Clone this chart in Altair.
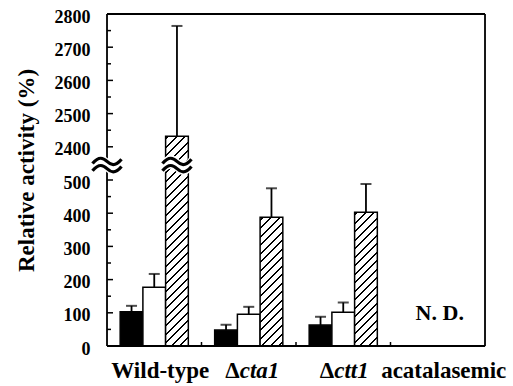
import altair as alt
import pandas as pd

# ---------------- data ----------------
groups = ["Wild-type", "Δcta1", "Δctt1", "acatalasemic"]
series = ["solid", "open", "hatched"]
solid_mean = [103, 48, 63, None]
solid_sd = [18, 16, 25, None]
open_mean = [177, 96, 102, None]
open_sd = [40, 22, 29, None]
hatched_mean = [2432, 388, 403, None]
hatched_sd = [332, 87, 85, None]

label_prefix = ["Wild-type", "Δ", "Δ", "acatalasemic"]
label_italic = ["", "cta1", "ctt1", ""]

lower_ticks = list(range(0, 501, 50))
upper_ticks = list(range(2400, 2801, 50))
BREAK_LOW, BREAK_HIGH = 500, 2400   # axis jumps from 500 to 2400

# ---------------- layout constants ----------------
W, H = 378, 332
YMAX = 1000          # virtual axis top (2800 -> 1000)
SHIFT = BREAK_HIGH - BREAK_LOW - 100
PAD_OUTER = 0.58
FONT = "Liberation Serif"


def virt(v):
    return v if v <= BREAK_LOW else v - SHIFT


rows = []
for i, g in enumerate(groups):
    for s, means, sds in zip(series, [solid_mean, open_mean, hatched_mean],
                             [solid_sd, open_sd, hatched_sd]):
        if means[i] is None:
            continue
        rows.append({"group": g, "series": s, "mean": means[i], "sd": sds[i]})
df = pd.DataFrame(rows)

ticks_df = pd.DataFrame({"tick": lower_ticks + upper_ticks})
labels_df = pd.DataFrame({"group": groups, "prefix": label_prefix, "ital": label_italic})
nd_df = pd.DataFrame({"group": [g for i, g in enumerate(groups) if solid_mean[i] is None]})
brk_df = pd.DataFrame({"group": [groups[0]], "series": ["hatched"]})
BREAK_POS = 545  # virtual position of the break symbol

xenc = alt.X("group:N", scale=alt.Scale(domain=groups, paddingInner=0, paddingOuter=0), axis=None)
xoff = alt.XOffset("series:N", scale=alt.Scale(domain=series, paddingInner=0, paddingOuter=PAD_OUTER))
yscale = alt.Scale(domain=[0, YMAX], nice=False, zero=True)

calc = dict(
    yv=f"datum.mean <= {BREAK_LOW} ? datum.mean : datum.mean - {SHIFT}",
    yu=f"(datum.mean + datum.sd) <= {BREAK_LOW} ? datum.mean + datum.sd : datum.mean + datum.sd - {SHIFT}",
)

label_values = [virt(t) for t in range(0, 501, 100)] + [virt(t) for t in range(2400, 2801, 100)]
yaxis = alt.Axis(
    values=label_values, tickCount=len(label_values),
    labelExpr=f"datum.value <= {BREAK_LOW} ? format(datum.value, 'd') : format(datum.value + {SHIFT}, 'd')",
    ticks=False, tickSize=0, domain=False, grid=False, labelOverlap=False,
    labelFont=FONT, labelFontSize=18, labelFontWeight="bold", labelColor="black",
    labelPadding=17, labelOffset=3,
    title="Relative activity (%)", titleFont=FONT, titleFontSize=23, titleFontWeight="bold",
    titleColor="black", titleX=-81, titleY=156, titleBaseline="middle",
)


def Y(field):
    return alt.Y(field, scale=yscale, axis=yaxis, stack=None)


def YD(val):
    return alt.YDatum(val, scale=yscale, axis=yaxis)


base = alt.Chart(df).transform_calculate(**calc)

bars = base.transform_filter(alt.datum.series != "hatched").mark_bar(
    stroke="black", strokeWidth=1.5
).encode(
    x=xenc, xOffset=xoff, y=Y("yv:Q"),
    fill=alt.Fill("series:N", scale=alt.Scale(domain=["solid", "open"], range=["black", "white"]), legend=None),
)

bar_w = (W / len(groups)) / (3 + 2 * PAD_OUTER)


def hatch_gradient(w, h, period=8.5, thick=1.9):
    L = w + h
    c = L / (w * w + h * h)
    stops = [{"offset": 0, "color": "white"}]
    s = 2.0
    while s < L:
        a = s / L
        b = min((s + thick) / L, 1.0)
        stops += [{"offset": a, "color": "white"}, {"offset": a, "color": "black"},
                  {"offset": b, "color": "black"}, {"offset": b, "color": "white"}]
        s += period
    stops.append({"offset": 1, "color": "white"})
    return {"gradient": "linear", "x1": 0, "y1": 0, "x2": c * w, "y2": c * h, "stops": stops}


hatch_layers = []
for i, g in enumerate(groups):
    if hatched_mean[i] is None:
        continue
    h_px = virt(hatched_mean[i]) * H / YMAX
    hatch_layers.append(
        base.transform_filter((alt.datum.series == "hatched") & (alt.datum.group == g))
        .mark_bar(fill=hatch_gradient(bar_w, h_px), stroke="black", strokeWidth=1.5)
        .encode(x=xenc, xOffset=xoff, y=Y("yv:Q"))
    )

err = base.mark_rule(color="black", strokeWidth=1.8).encode(
    x=xenc, xOffset=xoff, y=Y("yv:Q"), y2="yu:Q")
caps = base.mark_tick(color="black", orient="horizontal", size=11, thickness=2).encode(
    x=xenc, xOffset=xoff, y=Y("yu:Q"))

tick_base = alt.Chart(ticks_df).transform_calculate(
    tv=f"datum.tick <= {BREAK_LOW} ? datum.tick : datum.tick - {SHIFT}")
major = tick_base.transform_filter("datum.tick % 100 == 0").mark_rule(color="black", strokeWidth=1.5).encode(
    y=Y("tv:Q"), x=alt.value(0), x2=alt.value(6))
minor = tick_base.transform_filter("datum.tick % 100 != 0").mark_rule(color="black", strokeWidth=1.5).encode(
    y=Y("tv:Q"), x=alt.value(0), x2=alt.value(4))

xticks = alt.Chart(labels_df).transform_filter(alt.datum.group != groups[0]).mark_rule(
    color="black", strokeWidth=1.5).encode(
    x=alt.X("group:N", bandPosition=0, scale=alt.Scale(domain=groups, paddingInner=0, paddingOuter=0), axis=None),
    y=alt.value(H), y2=alt.value(H - 4))

# plot frame (all four sides)
frame_df = pd.DataFrame({"side": ["frame"]})
frame_top = alt.Chart(frame_df).mark_rule(color="black", strokeWidth=1.8).encode(
    x=alt.value(0), x2=alt.value(W), y=alt.value(0))
frame_bottom = alt.Chart(frame_df).mark_rule(color="black", strokeWidth=1.8).encode(
    x=alt.value(0), x2=alt.value(W), y=alt.value(H))
frame_left = alt.Chart(frame_df).mark_rule(color="black", strokeWidth=1.8).encode(
    x=alt.value(0), y=alt.value(0), y2=alt.value(H))
frame_right = alt.Chart(frame_df).mark_rule(color="black", strokeWidth=1.8).encode(
    x=alt.value(W), y=alt.value(0), y2=alt.value(H))


def wave(y0, a=0.4, e=0.15):
    return (f"M -1 {y0 + e} C -0.55 {y0 - a} -0.25 {y0 - a * 0.6} 0 {y0} "
            f"C 0.25 {y0 + a * 0.6} 0.55 {y0 + a} 1 {y0 - e}")


def mask(yt, yb, a=0.4, e=0.15):
    return (f"M -1 {yt + e} C -0.55 {yt - a} -0.25 {yt - a * 0.6} 0 {yt} "
            f"C 0.25 {yt + a * 0.6} 0.55 {yt + a} 1 {yt - e} "
            f"L 1 {yb - e} C 0.55 {yb + a} 0.25 {yb + a * 0.6} 0 {yb} "
            f"C -0.25 {yb - a * 0.6} -0.55 {yb - a} -1 {yb + e} Z")


WAVES = wave(-0.25) + " " + wave(0.25)
MASK = mask(-0.37, 0.37)
SYM = 841

brk_bar_mask = alt.Chart(brk_df).mark_point(
    shape=MASK, filled=True, fill="white", stroke="white", strokeWidth=3, size=SYM, opacity=1
).encode(x=xenc, xOffset=xoff, y=YD(BREAK_POS))
brk_bar = alt.Chart(brk_df).mark_point(
    shape=WAVES, filled=False, stroke="black", strokeWidth=3.2, size=SYM, opacity=1
).encode(x=xenc, xOffset=xoff, y=YD(BREAK_POS))
brk_ax_mask = alt.Chart(brk_df).mark_point(
    shape=MASK, filled=True, fill="white", stroke="white", strokeWidth=3, size=SYM, opacity=1
).encode(x=alt.value(0), y=YD(BREAK_POS))
brk_ax = alt.Chart(brk_df).mark_point(
    shape=WAVES, filled=False, stroke="black", strokeWidth=3.2, size=SYM, opacity=1
).encode(x=alt.value(0), y=YD(BREAK_POS))

nd = alt.Chart(nd_df).mark_text(
    text="N. D.", font=FONT, fontSize=22, fontWeight="bold", color="black", baseline="middle", dx=2
).encode(x=xenc, y=YD(100))

lab_plain = alt.Chart(labels_df).transform_filter(alt.datum.ital == "").mark_text(
    font=FONT, fontSize=23, fontWeight="bold", color="black", baseline="alphabetic", dx=6
).encode(x=xenc, y=alt.value(H + 32), text="prefix:N")
lab_delta = alt.Chart(labels_df).transform_filter(alt.datum.ital != "").mark_text(
    font=FONT, fontSize=23, fontWeight="bold", color="black", baseline="alphabetic", align="right", dx=-9
).encode(x=xenc, y=alt.value(H + 32), text="prefix:N")
lab_ital = alt.Chart(labels_df).transform_filter(alt.datum.ital != "").mark_text(
    font=FONT, fontSize=23, fontWeight="bold", fontStyle="italic", color="black",
    baseline="alphabetic", align="left", dx=-9
).encode(x=xenc, y=alt.value(H + 32), text="ital:N")

chart = alt.layer(
    bars, *hatch_layers, err, caps, major, minor, xticks,
    frame_top, frame_bottom, frame_left, frame_right,
    brk_bar_mask, brk_bar, brk_ax_mask, brk_ax, nd, lab_plain, lab_delta, lab_ital
).properties(
    width=W, height=H,
    padding={"left": 107, "top": 14, "right": 28, "bottom": 40},
    autosize="none",
).configure_view(stroke="black", strokeWidth=1.6).configure(background="white")

chart.save("out.html", embed_options={"renderer": "svg", "actions": False})
